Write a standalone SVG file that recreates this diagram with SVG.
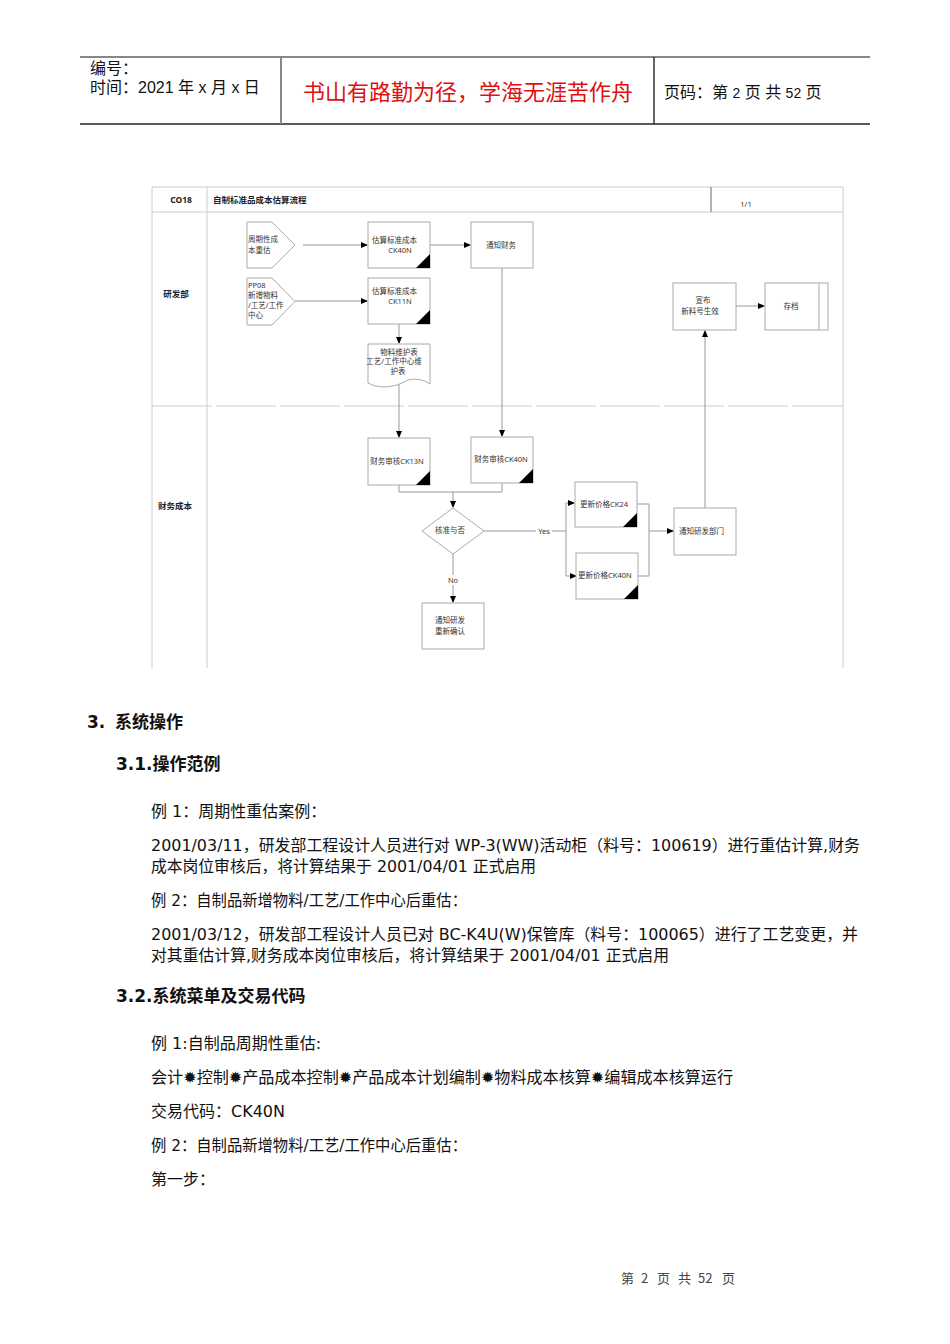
<svg xmlns="http://www.w3.org/2000/svg" width="950" height="1344" viewBox="0 0 950 1344">
<style>
.hd{font-family:"Liberation Sans","Noto Sans CJK SC",sans-serif;font-size:16px;fill:#111}
.red{font-family:"Noto Sans CJK SC",sans-serif;font-size:22px;fill:#e01010}
.d{font-family:"Noto Sans","Noto Sans CJK SC",sans-serif;font-size:7.5px;fill:#333}
.db{font-family:"Noto Sans","Noto Sans CJK SC",sans-serif;font-size:8.5px;font-weight:bold;fill:#222}
.box{fill:#fff;stroke:#aaa;stroke-width:1}
.tri{fill:#000}
.lane{stroke:#ccc;stroke-width:1;fill:none}
.c{stroke:#999;stroke-width:1;fill:none}
.ca{stroke:#999;stroke-width:1;fill:none;marker-end:url(#ah)}
.b{font-family:"DejaVu Sans","Noto Sans CJK SC",sans-serif;font-size:16px;fill:#111}
.h{font-family:"DejaVu Sans","Noto Sans CJK SC",sans-serif;font-size:17px;font-weight:bold;fill:#111}
.ft{font-family:"Noto Sans CJK SC",sans-serif;font-size:13px;fill:#444}
</style>
<defs>
<marker id="ah" markerWidth="7" markerHeight="6" refX="6" refY="3" orient="auto" markerUnits="userSpaceOnUse">
<path d="M0,0 L7,3 L0,6 Z" fill="#000"/>
</marker>
</defs>
<g id="header">
<line x1="80" y1="57" x2="870" y2="57" stroke="#888" stroke-width="2"/>
<line x1="80" y1="124" x2="870" y2="124" stroke="#222" stroke-width="1.5"/>
<line x1="281" y1="57" x2="281" y2="124" stroke="#888" stroke-width="2"/>
<line x1="654" y1="57" x2="654" y2="124" stroke="#333" stroke-width="1.5"/>
<text class="hd" x="90" y="74">编号：</text>
<text class="hd" x="90" y="93">时间：2021 年 x 月 x 日</text>
<text class="red" x="468" y="100" text-anchor="middle">书山有路勤为径，学海无涯苦作舟</text>
<text class="hd" x="664" y="98">页码：第 <tspan font-size="14">2</tspan> 页  共 <tspan font-size="14">52</tspan> 页</text>
</g>
<g id="frame">
<line class="lane" x1="152" y1="187" x2="843" y2="187"/>
<line class="lane" x1="152" y1="212" x2="843" y2="212"/>
<line class="lane" x1="152" y1="187" x2="152" y2="668"/>
<line class="lane" x1="207" y1="187" x2="207" y2="668"/>
<line class="lane" x1="843" y1="187" x2="843" y2="668"/>
<line x1="711" y1="187" x2="711" y2="212" stroke="#999" stroke-width="1.5"/>
<line class="lane" x1="152" y1="406" x2="843" y2="406" stroke-dasharray="60,4"/>
<text class="db" x="181" y="203" text-anchor="middle">CO18</text>
<text class="db" x="213" y="203">自制标准品成本估算流程</text>
<text class="d" x="746" y="207" text-anchor="middle">1/1</text>
<text class="db" x="176" y="297" text-anchor="middle">研发部</text>
<text class="db" x="175" y="509" text-anchor="middle">财务成本</text>
</g>
<g id="connectors">
<path class="ca" d="M303,245 H367"/>
<path class="ca" d="M295,301 H367"/>
<path class="ca" d="M430,245 H470"/>
<path class="ca" d="M399,324 V343"/>
<path class="ca" d="M399,384 V437"/>
<path class="ca" d="M502,268 V436"/>
<path class="c" d="M399,485 V492 H502 V483"/>
<path class="ca" d="M453,492 V507"/>
<path class="c" d="M484,531 H566"/>
<path class="ca" d="M566,531 V503 H574"/>
<path class="ca" d="M566,531 V576 H576"/>
<path class="c" d="M637,504 H649 V576 H638"/>
<path class="ca" d="M649,531 H673"/>
<path class="ca" d="M705,508 V331"/>
<path class="ca" d="M736,306 H764"/>
<path class="ca" d="M453,554 V602"/>
<rect x="536" y="526" width="16" height="10" fill="#fff"/>
<text class="d" x="544" y="534" text-anchor="middle">Yes</text>
<rect x="446" y="575" width="14" height="10" fill="#fff"/>
<text class="d" x="453" y="583" text-anchor="middle">No</text>
</g>
<g id="n1">
<path class="box" d="M247,222 H272 L295,245 L272,268 H247 Z"/>
<text class="d" x="248" y="242">周期性成</text>
<text class="d" x="248" y="253">本重估</text>
</g>
<g id="n2">
<path class="box" d="M247,278 H272 L295,301.5 L272,325 H247 Z"/>
<text class="d" x="248" y="288">PP08</text>
<text class="d" x="248" y="298">新增物料</text>
<text class="d" x="248" y="308">/工艺/工作</text>
<text class="d" x="248" y="318">中心</text>
</g>
<g id="n3">
<rect class="box" x="368" y="222" width="62" height="46"/>
<path class="tri" d="M416,268 L430,254 L430,268 Z"/>
<text class="d" x="372" y="243">估算标准成本</text>
<text class="d" x="400" y="253" text-anchor="middle">CK40N</text>
</g>
<g id="n4">
<rect class="box" x="471" y="222" width="62" height="46"/>
<text class="d" x="501" y="248" text-anchor="middle">通知财务</text>
</g>
<g id="n5">
<rect class="box" x="368" y="278" width="62" height="46"/>
<path class="tri" d="M416,324 L430,310 L430,324 Z"/>
<text class="d" x="372" y="294">估算标准成本</text>
<text class="d" x="400" y="304" text-anchor="middle">CK11N</text>
</g>
<g id="n6">
<path class="box" d="M368,344 H430 V384 Q420,377 408,380 Q396,387 384,387 Q374,387 368,383 Z"/>
<text class="d" x="399" y="355" text-anchor="middle">物料维护表</text>
<text class="d" x="394" y="364" text-anchor="middle">工艺/工作中心维</text>
<text class="d" x="398" y="374" text-anchor="middle">护表</text>
</g>
<g id="n7">
<rect class="box" x="368" y="438" width="62" height="47"/>
<path class="tri" d="M416,485 L430,471 L430,485 Z"/>
<text class="d" x="397" y="464" text-anchor="middle">财务审核CK13N</text>
</g>
<g id="n8">
<rect class="box" x="471" y="437" width="62" height="46"/>
<path class="tri" d="M519,483 L533,469 L533,483 Z"/>
<text class="d" x="501" y="462" text-anchor="middle">财务审核CK40N</text>
</g>
<g id="n9">
<path class="box" d="M453,508 L484,531 L453,554 L422,531 Z"/>
<text class="d" x="450" y="533" text-anchor="middle">核准与否</text>
</g>
<g id="n10">
<rect class="box" x="575" y="482" width="62" height="45"/>
<path class="tri" d="M623,527 L637,513 L637,527 Z"/>
<text class="d" x="580" y="507">更新价格CK24</text>
</g>
<g id="n11">
<rect class="box" x="576" y="553" width="62" height="46"/>
<path class="tri" d="M624,599 L638,585 L638,599 Z"/>
<text class="d" x="578" y="578">更新价格CK40N</text>
</g>
<g id="n12">
<rect class="box" x="674" y="508" width="62" height="47"/>
<text class="d" x="679" y="534">通知研发部门</text>
</g>
<g id="n13">
<rect class="box" x="673" y="283" width="63" height="47"/>
<text class="d" x="703" y="303" text-anchor="middle">宣布</text>
<text class="d" x="700" y="314" text-anchor="middle">新料号生效</text>
</g>
<g id="n14">
<rect class="box" x="765" y="283" width="63" height="47"/>
<line x1="819" y1="283" x2="819" y2="330" stroke="#aaa"/>
<text class="d" x="791" y="309" text-anchor="middle">存档</text>
</g>
<g id="n15">
<rect class="box" x="422" y="603" width="62" height="46"/>
<text class="d" x="450" y="623" text-anchor="middle">通知研发</text>
<text class="d" x="450" y="634" text-anchor="middle">重新确认</text>
</g>
<g id="body">
<text class="h" x="87" y="728">3.</text>
<text class="h" x="115" y="728">系统操作</text>
<text class="h" x="116" y="770">3.1.操作范例</text>
<text class="b" x="151" y="817">例 1：周期性重估案例：</text>
<text class="b" x="151" y="851" textLength="709" lengthAdjust="spacingAndGlyphs">2001/03/11，研发部工程设计人员进行对 WP-3(WW)活动柜（料号：100619）进行重估计算,财务</text>
<text class="b" x="151" y="872" textLength="385" lengthAdjust="spacingAndGlyphs">成本岗位审核后，将计算结果于 2001/04/01 正式启用</text>
<text class="b" x="151" y="906" textLength="316" lengthAdjust="spacingAndGlyphs">例 2：自制品新增物料/工艺/工作中心后重估：</text>
<text class="b" x="151" y="940" textLength="707" lengthAdjust="spacingAndGlyphs">2001/03/12，研发部工程设计人员已对 BC-K4U(W)保管库（料号：100065）进行了工艺变更，并</text>
<text class="b" x="151" y="961" textLength="518" lengthAdjust="spacingAndGlyphs">对其重估计算,财务成本岗位审核后，将计算结果于 2001/04/01 正式启用</text>
<text class="h" x="116" y="1002">3.2.系统菜单及交易代码</text>
<text class="b" x="151" y="1049">例 1:自制品周期性重估:</text>
<text class="b" x="151" y="1083" textLength="582" lengthAdjust="spacingAndGlyphs">会计✹控制✹产品成本控制✹产品成本计划编制✹物料成本核算✹编辑成本核算运行</text>
<text class="b" x="151" y="1117">交易代码：CK40N</text>
<text class="b" x="151" y="1151" textLength="316" lengthAdjust="spacingAndGlyphs">例 2：自制品新增物料/工艺/工作中心后重估：</text>
<text class="b" x="151" y="1185">第一步：</text>
</g>
<g id="footer">
<text class="ft" y="1283"><tspan x="621">第</tspan><tspan x="641">2</tspan><tspan x="657">页</tspan><tspan x="678">共</tspan><tspan x="698">52</tspan><tspan x="722">页</tspan></text>
</g>
</svg>
